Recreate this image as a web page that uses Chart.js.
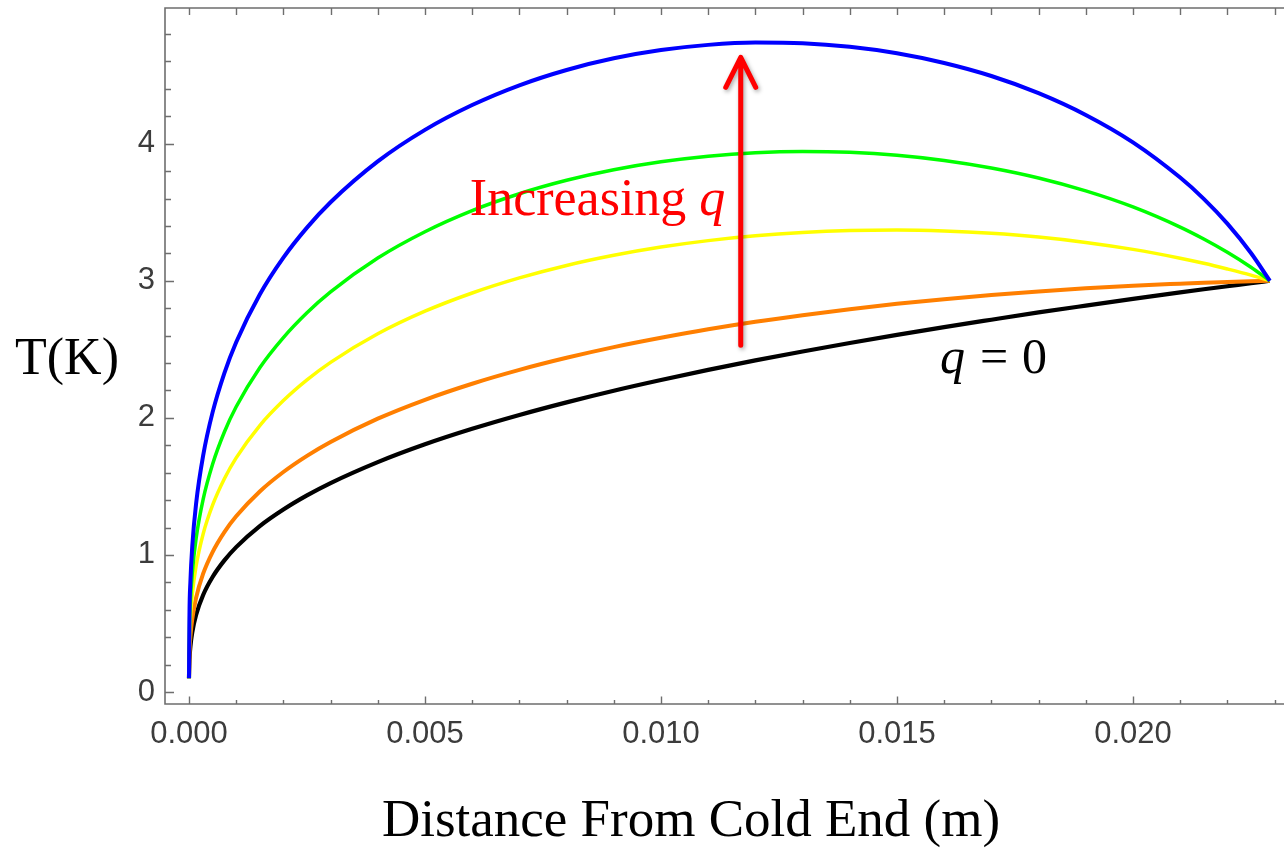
<!DOCTYPE html>
<html>
<head>
<meta charset="utf-8">
<title>T(K) vs distance from cold end</title>
<script src="https://cdn.jsdelivr.net/npm/chart.js@4/dist/chart.umd.min.js"></script>
<style>
  html, body { margin: 0; padding: 0; background: #fff; }
  canvas { display: block; }
</style>
</head>
<body>
<canvas id="profile" width="1284" height="849"></canvas>
<script>
// distance from the cold end (m); all profiles share these stations
const distance = [0, 0.00001, 0.00003, 0.00007, 0.00015, 0.0003, 0.0005, 0.00075, 0.001, 0.0015,
                  0.002, 0.0025, 0.003, 0.004, 0.005, 0.006, 0.007, 0.008, 0.009, 0.010,
                  0.011, 0.012, 0.013, 0.014, 0.015, 0.016, 0.017, 0.018, 0.019, 0.020,
                  0.021, 0.0215, 0.022, 0.0225, 0.0229];

// temperature (K), largest heat load first, q = 0 last
const tBlue   = [0.10, 0.558, 0.804, 1.066, 1.372, 1.725, 2.040, 2.327, 2.552, 2.900,
                 3.169, 3.388, 3.573, 3.871, 4.101, 4.282, 4.426, 4.538, 4.623, 4.683,
                 4.721, 4.738, 4.733, 4.707, 4.660, 4.589, 4.494, 4.369, 4.210, 4.010,
                 3.753, 3.598, 3.417, 3.203, 3.00];
const tGreen  = [0.10, 0.456, 0.655, 0.868, 1.118, 1.406, 1.662, 1.897, 2.081, 2.366,
                 2.586, 2.767, 2.919, 3.166, 3.358, 3.512, 3.635, 3.733, 3.810, 3.868,
                 3.909, 3.934, 3.943, 3.937, 3.916, 3.878, 3.823, 3.750, 3.656, 3.539,
                 3.392, 3.305, 3.208, 3.099, 3.00];
const tYellow = [0.10, 0.375, 0.538, 0.712, 0.917, 1.153, 1.363, 1.556, 1.708, 1.944,
                 2.126, 2.277, 2.405, 2.613, 2.778, 2.911, 3.021, 3.112, 3.186, 3.246,
                 3.293, 3.328, 3.352, 3.366, 3.370, 3.363, 3.346, 3.319, 3.280, 3.229,
                 3.165, 3.128, 3.086, 3.041, 3.00];
const tOrange = [0.10, 0.282, 0.403, 0.533, 0.686, 0.863, 1.021, 1.167, 1.282, 1.463,
                 1.605, 1.723, 1.824, 1.994, 2.132, 2.249, 2.350, 2.438, 2.516, 2.584,
                 2.646, 2.701, 2.749, 2.793, 2.832, 2.866, 2.896, 2.922, 2.945, 2.964,
                 2.979, 2.986, 2.991, 2.996, 3.00];
const tBlack  = [0.10, 0.234, 0.331, 0.437, 0.562, 0.708, 0.839, 0.960, 1.057, 1.210,
                 1.331, 1.434, 1.524, 1.677, 1.807, 1.920, 2.021, 2.113, 2.198, 2.276,
                 2.350, 2.419, 2.484, 2.546, 2.605, 2.662, 2.716, 2.769, 2.819, 2.868,
                 2.915, 2.938, 2.960, 2.983, 3.00];

// frame ticks
const xTicks  = [0, 0.001, 0.002, 0.003, 0.004, 0.005, 0.006, 0.007, 0.008, 0.009, 0.010, 0.011, 0.012,
                 0.013, 0.014, 0.015, 0.016, 0.017, 0.018, 0.019, 0.020, 0.021, 0.022, 0.023];
const xLabels = [0, 0.005, 0.010, 0.015, 0.020];
const yTicks  = [0, 0.2, 0.4, 0.6, 0.8, 1, 1.2, 1.4, 1.6, 1.8, 2, 2.2, 2.4, 2.6, 2.8,
                 3, 3.2, 3.4, 3.6, 3.8, 4, 4.2, 4.4, 4.6, 4.8];
const yLabels = [0, 1, 2, 3, 4];

// arrow from the q = 0 side up towards the largest load
const arrowX = 0.01169;
const arrowFrom = 2.53;
const arrowTo = 4.63;

const isIn = (list, v) => list.some(t => Math.abs(t - v) < 1e-9);
const pts = ts => distance.map((x, i) => ({ x: x, y: ts[i] }));

const series = (temps, color, width) => ({
    data: pts(temps),
    borderColor: color,
    borderWidth: width,
    pointRadius: 0,
    fill: false,
    cubicInterpolationMode: 'monotone'
});

const serif = '"Liberation Serif", "Times New Roman", serif';

const framePlugin = {
    id: 'frame',
    beforeDatasetsDraw(chart) {
        const { ctx, chartArea: a, scales: { x, y } } = chart;
        ctx.save();
        ctx.strokeStyle = '#6e6e6e';
        ctx.lineWidth = 1.6;
        ctx.beginPath();
        ctx.moveTo(a.right + 2, a.top);
        ctx.lineTo(a.left, a.top);
        ctx.lineTo(a.left, a.bottom);
        ctx.lineTo(a.right + 2, a.bottom);
        ctx.stroke();

        ctx.lineWidth = 1.4;
        ctx.beginPath();
        xTicks.forEach(v => {
            const px = Math.round(x.getPixelForValue(v)) + 0.5;
            const len = isIn(xLabels, v) ? 7.5 : 4;
            ctx.moveTo(px, a.bottom);
            ctx.lineTo(px, a.bottom - len);
            ctx.moveTo(px, a.top);
            ctx.lineTo(px, a.top + 7);
        });
        yTicks.forEach(v => {
            const py = Math.round(y.getPixelForValue(v)) + 0.5;
            const len = isIn(yLabels, v) ? 9 : 6;
            ctx.moveTo(a.left, py);
            ctx.lineTo(a.left + len, py);
        });
        ctx.stroke();
        ctx.restore();
    },
    afterDatasetsDraw(chart) {
        const { ctx, scales: { x, y } } = chart;
        ctx.save();

        // red arrow
        const ax = x.getPixelForValue(arrowX);
        const y0 = y.getPixelForValue(arrowFrom);
        const y1 = y.getPixelForValue(arrowTo);
        ctx.shadowColor = 'rgba(0,0,0,0.35)';
        ctx.shadowBlur = 4;
        ctx.shadowOffsetX = 1.5;
        ctx.shadowOffsetY = 2;
        ctx.strokeStyle = '#ff0000';
        ctx.lineWidth = 5;
        ctx.lineCap = 'round';
        ctx.lineJoin = 'round';
        ctx.beginPath();
        ctx.moveTo(ax, y0);
        ctx.lineTo(ax, y1 + 2);
        ctx.moveTo(ax - 15, y1 + 30);
        ctx.lineTo(ax, y1);
        ctx.lineTo(ax + 15, y1 + 30);
        ctx.stroke();
        ctx.shadowColor = 'transparent';

        ctx.textBaseline = 'alphabetic';
        ctx.textAlign = 'left';

        // "Increasing q"
        ctx.fillStyle = '#ff0000';
        ctx.font = '52px ' + serif;
        const lx = x.getPixelForValue(0.00595);
        const ly = y.getPixelForValue(3.48);
        ctx.fillText('Increasing ', lx, ly);
        const w = ctx.measureText('Increasing ').width;
        ctx.font = 'italic 52px ' + serif;
        ctx.fillText('q', lx + w, ly);

        // "q = 0"
        ctx.fillStyle = '#000';
        const qx = x.getPixelForValue(0.01591);
        const qy = y.getPixelForValue(2.33);
        ctx.font = 'italic 50px ' + serif;
        ctx.fillText('q', qx, qy);
        ctx.font = '50px ' + serif;
        ctx.fillText('=', qx + 40, qy);
        ctx.fillText('0', qx + 82, qy);

        // axis titles
        ctx.font = '52px ' + serif;
        ctx.fillText('T(K)', 15, 374);
        ctx.font = '53px ' + serif;
        ctx.textAlign = 'center';
        ctx.fillText('Distance From Cold End (m)', 691, 836);
        ctx.restore();
    }
};

const tickFont = { family: '"Liberation Sans", Arial, sans-serif', size: 31 };

new Chart(document.getElementById('profile'), {
    type: 'line',
    data: {
        datasets: [
            series(tBlue, '#0000ff', 4),
            series(tGreen, '#00ff00', 3.5),
            series(tYellow, '#ffff00', 3.5),
            series(tOrange, '#ff7f00', 4),
            series(tBlack, '#000000', 4.2)
        ]
    },
    options: {
        responsive: false,
        devicePixelRatio: 1,
        animation: false,
        layout: { padding: { top: 8, left: 0, right: 0, bottom: 0 } },
        plugins: { legend: { display: false }, tooltip: { enabled: false } },
        scales: {
            x: {
                type: 'linear',
                min: -0.000508,
                max: 0.0232,
                grid: { display: false, drawTicks: false },
                border: { display: false },
                afterBuildTicks: axis => { axis.ticks = xTicks.map(v => ({ value: v })); },
                afterFit: s => { s.height = 145; s.paddingLeft = 0; s.paddingRight = 0; },
                ticks: {
                    autoSkip: false,
                    maxRotation: 0,
                    padding: 12,
                    color: '#3c3c3c',
                    font: tickFont,
                    callback: v => isIn(xLabels, v) ? v.toFixed(3) : ''
                }
            },
            y: {
                type: 'linear',
                min: -0.0875,
                max: 4.99,
                grid: { display: false, drawTicks: false },
                border: { display: false },
                afterBuildTicks: axis => { axis.ticks = yTicks.map(v => ({ value: v })); },
                afterFit: s => { s.width = 165; s.paddingTop = 0; s.paddingBottom = 0; },
                ticks: {
                    autoSkip: false,
                    padding: 10,
                    color: '#3c3c3c',
                    font: tickFont,
                    callback: v => isIn(yLabels, v) ? String(Math.round(v)) : ''
                }
            }
        }
    },
    plugins: [framePlugin]
});
</script>
</body>
</html>
